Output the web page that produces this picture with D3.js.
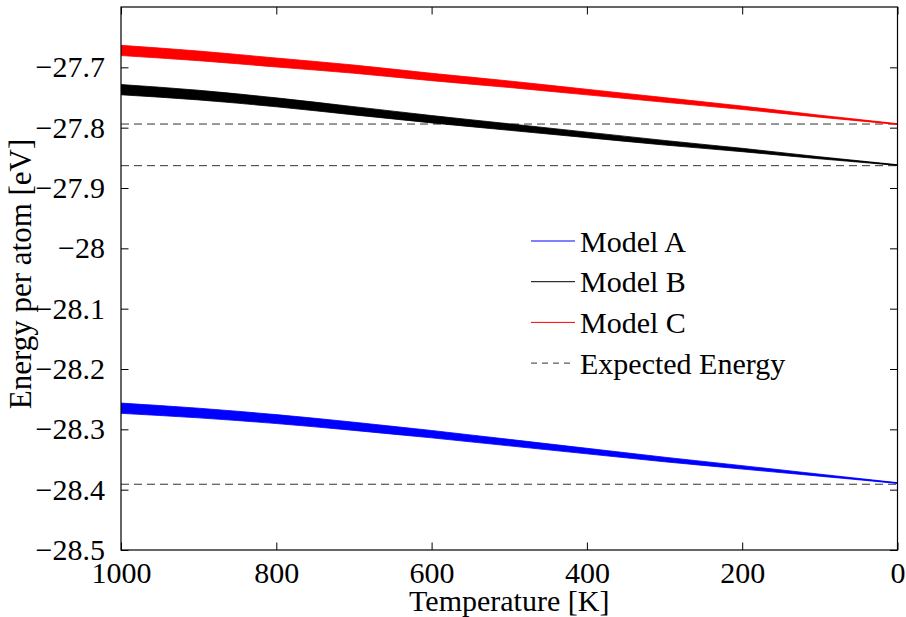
<!DOCTYPE html>
<html>
<head>
<meta charset="utf-8">
<script src="https://cdn.jsdelivr.net/npm/d3@7"></script>
<style>
  html, body { margin: 0; padding: 0; background: #fff; }
  svg text { font-family: "Liberation Serif", "Times New Roman", serif; fill: #000; }
</style>
</head>
<body>
<svg id="chart" width="906" height="617"></svg>
<script>
// Temperature samples (K)
const temperature = [1000, 900, 800, 700, 600, 500, 400, 300, 200, 100, 0];

// Mean energy per atom (eV) along the cooling run
const modelA = [-28.265, -28.273, -28.283, -28.295, -28.308, -28.322, -28.336, -28.350, -28.363, -28.376, -28.389];
const modelB = [-27.737, -27.746, -27.758, -27.772, -27.786, -27.799, -27.812, -27.825, -27.837, -27.850, -27.862];
const modelC = [-27.672, -27.681, -27.692, -27.703, -27.716, -27.728, -27.741, -27.754, -27.767, -27.781, -27.794];

// Half-width of the thermal fluctuation band (eV)
const spread = [0.0085, 0.0080, 0.0074, 0.0068, 0.0061, 0.0054, 0.0046, 0.0038, 0.0028, 0.0017, 0.0006];

// Expected (ground-state) energies (eV)
const expectedEnergy = [-28.391, -27.863, -27.794];

// Axis ticks
const xTicks = [1000, 800, 600, 400, 200, 0];
const yTicks = [-27.7, -27.8, -27.9, -28, -28.1, -28.2, -28.3, -28.4, -28.5];

const seriesNames = ["Model A", "Model B", "Model C"];
const seriesColors = ["#0000ff", "#000000", "#ff0000"];
const seriesValues = [modelA, modelB, modelC];

const svg = d3.select("#chart");
const pLeft = 121, pRight = 897.5, pTop = 7, pBottom = 550;

const x = d3.scaleLinear().domain([1000, 0]).range([pLeft, pRight]);
const y = d3.scaleLinear().domain([-28.5, -27.6]).range([pBottom, pTop]);

svg.append("defs").append("clipPath").attr("id", "plot")
  .append("rect").attr("x", pLeft).attr("y", pTop)
  .attr("width", pRight - pLeft).attr("height", pBottom - pTop);

const plot = svg.append("g").attr("clip-path", "url(#plot)");

// Expected-energy reference lines
plot.selectAll("line.expected").data(expectedEnergy).join("line")
  .attr("class", "expected")
  .attr("x1", x(1000)).attr("x2", x(0))
  .attr("y1", d => y(d)).attr("y2", d => y(d))
  .attr("stroke", "#333").attr("stroke-width", 1)
  .attr("stroke-dasharray", "8,5");

// Fluctuation bands and mean lines
seriesValues.forEach((vals, i) => {
  const pts = temperature.map((t, j) => ({ t, v: vals[j], s: spread[j] }));
  plot.append("path").datum(pts)
    .attr("fill", seriesColors[i])
    .attr("stroke", seriesColors[i]).attr("stroke-width", 0.8)
    .attr("d", d3.area().curve(d3.curveMonotoneX)
      .x(d => x(d.t)).y0(d => y(d.v - d.s)).y1(d => y(d.v + d.s)));
  plot.append("path").datum(pts)
    .attr("fill", "none").attr("stroke", seriesColors[i]).attr("stroke-width", 1)
    .attr("d", d3.line().curve(d3.curveMonotoneX).x(d => x(d.t)).y(d => y(d.v)));
});

// Axes (ticks inward, mirrored on the opposite sides)
const tickLen = 7.5;
const fmt = v => String(v).replace("-", "\u2212");

const bottomAxis = svg.append("g").attr("transform", `translate(0,${pBottom})`)
  .call(d3.axisBottom(x).tickValues(xTicks).tickSizeInner(-tickLen).tickSizeOuter(0).tickPadding(12).tickFormat(d3.format("d")));
const topAxis = svg.append("g").attr("transform", `translate(0,${pTop})`)
  .call(d3.axisTop(x).tickValues(xTicks).tickSizeInner(-tickLen).tickSizeOuter(0).tickFormat(""));
const leftAxis = svg.append("g").attr("transform", `translate(${pLeft},0)`)
  .call(d3.axisLeft(y).tickValues(yTicks).tickSizeInner(-tickLen).tickSizeOuter(0).tickPadding(16).tickFormat(fmt));
const rightAxis = svg.append("g").attr("transform", `translate(${pRight},0)`)
  .call(d3.axisRight(y).tickValues(yTicks).tickSizeInner(-tickLen).tickSizeOuter(0).tickFormat(""));

[bottomAxis, topAxis, leftAxis, rightAxis].forEach(g => {
  g.select(".domain").remove();
  g.selectAll(".tick line").attr("stroke", "#000").attr("stroke-width", 1);
  g.selectAll("text").attr("font-size", 30).attr("font-family", null).attr("fill", "#000");
});
bottomAxis.selectAll("text").attr("dy", "0.71em");

// Frame
svg.append("rect").attr("x", pLeft).attr("y", pTop)
  .attr("width", pRight - pLeft).attr("height", pBottom - pTop)
  .attr("fill", "none").attr("stroke", "#000").attr("stroke-width", 1.2);

// Axis titles
svg.append("text").attr("x", (pLeft + pRight) / 2).attr("y", 611)
  .attr("text-anchor", "middle").attr("font-size", 30).text("Temperature [K]");
svg.append("text").attr("transform", "translate(31,274) rotate(-90)")
  .attr("text-anchor", "middle").attr("font-size", 31).text("Energy per atom [eV]");

// Legend
const legendItems = [
  { name: seriesNames[0], color: seriesColors[0], dash: null },
  { name: seriesNames[1], color: seriesColors[1], dash: null },
  { name: seriesNames[2], color: seriesColors[2], dash: null },
  { name: "Expected Energy", color: "#333", dash: "6,5" }
];
const legend = svg.append("g").attr("transform", "translate(531,241)");
legendItems.forEach((item, i) => {
  const row = legend.append("g").attr("transform", `translate(0,${i * 40.7})`);
  row.append("line").attr("x1", 0).attr("x2", 44).attr("y1", 0).attr("y2", 0)
    .attr("stroke", item.color).attr("stroke-width", 1)
    .attr("stroke-dasharray", item.dash);
  row.append("text").attr("x", 49).attr("y", 0).attr("dy", "0.35em")
    .attr("font-size", 30).text(item.name);
});
</script>
</body>
</html>
